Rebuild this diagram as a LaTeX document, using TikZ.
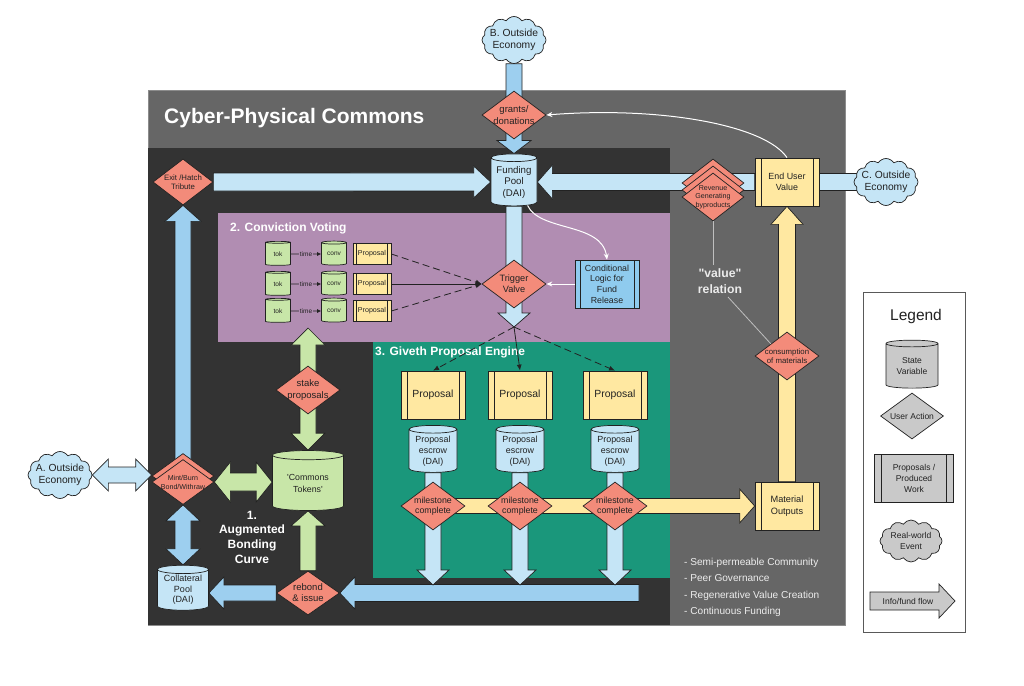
\documentclass[tikz,border=0pt]{standalone}
\usepackage{fontspec}
\setmainfont{Liberation Sans}
\usetikzlibrary{shapes.geometric,shapes.symbols,shadows,calc,arrows.meta}
\pgfdeclarelayer{regions}
\pgfdeclarelayer{flows}
\pgfsetlayers{regions,flows,main}

\definecolor{lightflow}{HTML}{C5E5F6}
\definecolor{deepflow}{HTML}{9DCFEF}
\definecolor{poolblue}{HTML}{C5E5F6}
\definecolor{logicblue}{HTML}{8FCBEE}
\definecolor{actred}{HTML}{F38B7A}
\definecolor{tokgreen}{HTML}{C8E6A8}
\definecolor{workyellow}{HTML}{FFE8A1}
\definecolor{cvpurple}{HTML}{B18DB2}
\definecolor{givteal}{HTML}{1A977B}
\definecolor{commdark}{HTML}{333333}
\definecolor{commgray}{HTML}{666666}
\definecolor{legendgray}{HTML}{C9C9C9}
\definecolor{inkgray}{HTML}{222222}

\newcommand\fpx[2]{\fontsize{#1}{#2}\selectfont}
\newcommand\flowdir[2]{%
  \path let \p1=($(#2)-(#1)$), \n1={atan2(\y1,\x1)}, \n2={veclen(\x1,\y1)} in
    \pgfextra{\pgfmathparse{\n1}\xdef\flowang{\pgfmathresult}\pgfmathparse{\n2}\xdef\flowlen{\pgfmathresult}};}
\newcommand\oneflow[3][]{\flowdir{#2}{#3}%
  \filldraw[flow,#1,shift={(#2)},rotate=\flowang] (0,-\flowshaft) -- ({\flowlen-\flowtip},-\flowshaft)
    -- ({\flowlen-\flowtip},-\flowhead) -- (\flowlen,0) -- ({\flowlen-\flowtip},\flowhead)
    -- ({\flowlen-\flowtip},\flowshaft) -- (0,\flowshaft) -- cycle;}
\newcommand\twoflow[3][]{\flowdir{#2}{#3}%
  \filldraw[flow,#1,shift={(#2)},rotate=\flowang] (0,0) -- (\flowtip,-\flowhead) -- (\flowtip,-\flowshaft)
    -- ({\flowlen-\flowtip},-\flowshaft) -- ({\flowlen-\flowtip},-\flowhead) -- (\flowlen,0)
    -- ({\flowlen-\flowtip},\flowhead) -- ({\flowlen-\flowtip},\flowshaft) -- (\flowtip,\flowshaft)
    -- (\flowtip,\flowhead) -- cycle;}

\begin{document}
\begin{tikzpicture}[x=1pt,y=-1pt,
  shaftw/.store in=\flowshaft, headw/.store in=\flowhead, headl/.store in=\flowtip,
  flow/.style={draw=inkgray,line width=0.7pt,line join=miter,fill=lightflow,shaftw=8,headw=17,headl=15},
  act/.style={diamond,draw=inkgray,line width=0.7pt,fill=actred,text=inkgray,inner sep=-6pt,
    minimum width=64,minimum height=48,align=center},
  pool/.style={cylinder,shape border rotate=90,aspect=0.22,draw=inkgray,line width=0.7pt,fill=poolblue,
    text=inkgray,inner sep=0pt,minimum width=48,minimum height=48,align=center},
  work/.style={rectangle,draw=inkgray,line width=0.7pt,fill=workyellow,text=inkgray,inner sep=0pt,
    minimum width=64,minimum height=48,align=center,
    path picture={\draw[inkgray,line width=0.6pt]
      ([xshift=#1]path picture bounding box.north west) -- ([xshift=#1]path picture bounding box.south west)
      ([xshift=-#1]path picture bounding box.north east) -- ([xshift=-#1]path picture bounding box.south east);}},
  work/.default=6pt,
  econ/.style={cloud,cloud puffs=12,cloud puff arc=115,aspect=1.45,draw=inkgray,line width=0.7pt,
    fill=poolblue,text=inkgray,inner sep=-4pt,minimum width=64,minimum height=47,align=center,
    font=\fpx{10.3}{12}},
  heading/.style={text=white,font=\bfseries\fpx{12}{14},anchor=west,inner sep=0pt},
  note/.style={draw=white,line width=1pt,-{Stealth[length=6pt,width=5pt]}},
  vote/.style={draw=inkgray,line width=0.8pt,-{Latex[length=6pt,width=5pt]}},
  longdash/.style={dash pattern=on 7pt off 4pt},
  relation/.style={draw=black!25,line width=0.8pt}]
\useasboundingbox (0,0) rectangle (1024,685);

\begin{pgfonlayer}{regions}
\filldraw[fill=commgray,draw=black!45] (148,90) rectangle (845,625);
\fill[commdark] (148,148) rectangle (670,625);
\fill[cvpurple] (218,213) rectangle (670,342);
\fill[givteal] (373,342) rectangle (670,578);
\node[draw=black!65,line width=0.9pt,fill=white,minimum width=102,minimum height=340,inner sep=0pt] (legend) at (914,462) {};
\end{pgfonlayer}

\node[heading,font=\bfseries\fpx{21}{24}] (cpctitle) at (164,118) {Cyber-Physical Commons};
\node[heading] (cvtitle) at (230,228) {2. Conviction Voting};
\node[heading] (givtitle) at (375,352) {3. Giveth Proposal Engine};
\node[text=white,font=\bfseries\fpx{12}{14.7},align=center] (abctitle) at (252,537) {1.\\Augmented\\Bonding\\Curve};

\node[econ] (econB) at (514,40) {B. Outside\\Economy};
\node[act,font=\fpx{9.5}{11.5}] (grants) at (514,115) {grants/\\donations};
\node[pool,minimum width=46,minimum height=52,font=\fpx{9.7}{11.5}] (fundpool) at (514,182) {Funding\\Pool\\(DAI)};
\node[act,minimum width=60,minimum height=46,font=\fpx{7.8}{9.5}] (exit) at (183,182) {Exit /Hatch\\Tribute};
\node[act,minimum width=62,font=\fpx{7.1}{8.5},
  copy shadow={shadow xshift=0pt,shadow yshift=14pt,fill=actred,draw=inkgray},
  copy shadow={shadow xshift=0pt,shadow yshift=7pt,fill=actred,draw=inkgray}] (revenue) at (713,197) {Revenue\\Generating\\byproducts};
\node[work,font=\fpx{8.9}{11}] (enduser) at (787,182) {End User\\Value};
\node[econ] (econC) at (886,182) {C. Outside\\Economy};
\node[work=5pt,fill=logicblue,font=\fpx{8.8}{10.6}] (logic) at (607,284) {Conditional\\Logic for\\Fund\\Release};
\node[act,font=\fpx{9.2}{11}] (valve) at (514,284) {Trigger\\Valve};

\foreach \y [count=\i] in {254,284,311}{
  \node[pool,fill=tokgreen,minimum width=25,minimum height=24,font=\fpx{6.5}{7}] (tok\i) at (278,\y) {tok};
  \node[pool,fill=tokgreen,minimum width=25,minimum height=24,font=\fpx{6.5}{7}] (conv\i) at (334,\y) {conv};
  \node[work=3.5pt,minimum width=38,minimum height=21,font=\fpx{7.1}{8}] (cvprop\i) at (372,\y) {Proposal};
  \draw[vote,line width=0.6pt,-{Latex[length=4pt,width=4pt]}] (tok\i) -- node[fill=cvpurple,inner sep=0.5pt,font=\fpx{6.5}{7},text=inkgray] (time\i) {time} (conv\i);
}

\foreach \x [count=\i] in {433,520,615}{
  \node[work,font=\fpx{10.4}{12}] (gprop\i) at (\x,395) {Proposal};
  \node[pool,minimum width=48,minimum height=47,font=\fpx{8.9}{10.8}] (escrow\i) at (\x,451) {Proposal\\escrow\\(DAI)};
  \node[act,font=\fpx{8.8}{10.5}] (mile\i) at (\x,506) {milestone\\complete};
  \coordinate (drop\i) at (\x,585);
}
\coordinate (split) at (514,327);
\coordinate (stakebase) at (308,328);
\coordinate (returnend) at (639,593);

\node[econ] (econA) at (60,475) {A. Outside\\Economy};
\node[act,minimum width=62,minimum height=45,font=\fpx{7.1}{9},
  copy shadow={shadow xshift=0pt,shadow yshift=6pt,fill=actred,draw=inkgray}] (mint) at (183,482) {Mint/Burn\\Bond/Withraw};
\node[pool,fill=tokgreen,minimum width=71,minimum height=60,font=\fpx{8.8}{12}] (tokens) at (308,483) {\textquotesingle Commons\\Tokens\textquotesingle};
\node[act,font=\fpx{9.5}{11.5}] (stake) at (308,390) {stake\\proposals};
\node[act,minimum width=63,minimum height=44,font=\fpx{9.5}{11}] (rebond) at (308,593) {rebond\\\& issue};
\node[pool,minimum width=51,minimum height=45,font=\fpx{9}{10.5}] (collat) at (183,590) {Collateral\\Pool\\(DAI)};

\node[act,font=\fpx{7.8}{9.5}] (consume) at (787,356) {consumption\\of materials};
\node[work,font=\fpx{9.2}{11.5}] (material) at (787,506) {Material\\Outputs};
\node[text=white!92!black,font=\bfseries\fpx{12.2}{16},align=center] (valrel) at (720,281) {\textquotedbl value\textquotedbl\\relation};
\node[anchor=north west,align=left,text=white!93!black,font=\fpx{10.1}{16.4},inner sep=0pt] (traits) at (684,558)
  {- Semi-permeable Community\\- Peer Governance\\- Regenerative Value Creation\\- Continuous Funding};

\node[font=\fpx{15.5}{18},text=inkgray] (legendtitle) at (916,316) {Legend};
\node[pool,fill=legendgray,minimum width=52,minimum height=48,font=\fpx{8.5}{11}] (lvar) at (912,366) {State\\Variable};
\node[act,fill=legendgray,minimum width=63,minimum height=46,font=\fpx{8.5}{10}] (lact) at (912,416) {User Action};
\node[work=7pt,fill=legendgray,minimum width=79,minimum height=48,font=\fpx{8.5}{11}] (lwork) at (914,478) {Proposals /\\Produced\\Work};
\node[econ,fill=legendgray,minimum width=62,minimum height=42,font=\fpx{8.5}{11}] (lcloud) at (911,541) {Real-world\\Event};
\coordinate (lflowtail) at (870,601);
\coordinate (lflowhead) at (955,601);
\node[font=\fpx{8.5}{10},text=inkgray] (lflowtext) at (908,601) {Info/fund flow};

\begin{pgfonlayer}{flows}
\oneflow[fill=deepflow,headw=17,headl=13]{econB.south}{fundpool.north}
\oneflow[shaftw=9,headw=16,headl=17]{exit.east}{fundpool.west}
\oneflow[shaftw=8.5]{enduser.west}{fundpool.east}
\oneflow[shaftw=8.5,headw=8.5,headl=0]{enduser.east}{econC.center}
\oneflow[headw=16,headl=14]{fundpool.south}{split}
\oneflow[fill=deepflow,headw=18,headl=16]{mint.center}{exit.south}
\twoflow[headw=16,headl=16]{econA.east}{econA.east -| mint.west}
\twoflow[fill=tokgreen,shaftw=9,headw=20,headl=16]{mint.east}{mint.east -| tokens.west}
\twoflow[fill=deepflow,headl=16]{mint.south}{collat.north}
\twoflow[fill=tokgreen,headl=17]{stakebase}{tokens.north}
\oneflow[fill=tokgreen]{rebond.north}{tokens.south}
\oneflow[fill=deepflow,shaftw=8.5,headw=16]{returnend}{rebond.east}
\oneflow[fill=deepflow,headw=16]{rebond.west}{rebond.west -| collat.east}
\foreach \i in {1,2,3} \oneflow[headw=16]{escrow\i.south}{drop\i};
\oneflow[fill=workyellow,shaftw=7.5]{mile1.center}{material.west}
\oneflow[fill=workyellow,shaftw=8.5,headw=16,headl=18]{material.north}{enduser.south}
\oneflow[fill=legendgray,shaftw=9,headl=16]{lflowtail}{lflowhead}
\end{pgfonlayer}

\draw[note] (fundpool.-60) .. controls (540,232) and (602,222) .. (logic.north);
\draw[note] (logic.west) -- (valve.east);
\draw[note] (enduser.north) .. controls (765,125) and (660,106) .. (grants.east);
\foreach \i/\s in {1/longdash,2/solid,3/longdash}{
  \draw[vote,\s] (cvprop\i.east) -- (valve.west);
  \draw[vote,\s] (split) -- (gprop\i.north);
}
\draw[relation] (revenue.south) .. controls (713,250) and (713,262) .. ([xshift=-7pt]valrel.north);
\draw[relation] ([xshift=8pt]valrel.south) -- (consume.north west);
\end{tikzpicture}
\end{document}
